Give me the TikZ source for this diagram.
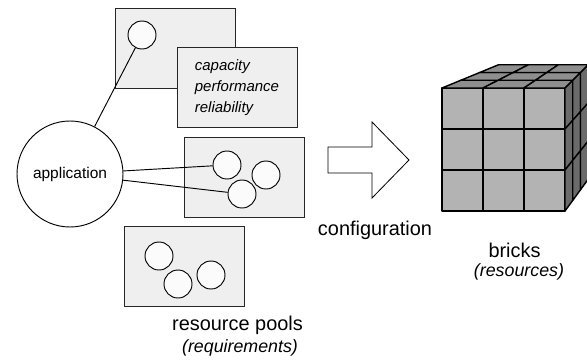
\documentclass[tikz,border=0pt]{standalone}
\usepackage{fontspec}
\setmainfont{Liberation Sans}
\usepackage{tikz}
\usetikzlibrary{positioning}
\definecolor{poolFill}{RGB}{239,239,239}
\definecolor{slotFill}{RGB}{251,251,251}
\definecolor{brickFront}{RGB}{179,179,179}
\definecolor{brickTop}{RGB}{142,142,142}
\definecolor{brickSide}{RGB}{107,107,107}
\tikzstyle{pool} = [rectangle, minimum width=3.6cm, minimum height=2.4cm, draw=black!85, fill=poolFill, line width=0.8pt]
\tikzstyle{slot} = [circle, minimum size=0.84cm, inner sep=0pt, draw=black, fill=slotFill, line width=0.8pt]
\tikzstyle{app} = [circle, minimum size=3.18cm, inner sep=0pt, draw=black, fill=white, line width=0.8pt, font=\fontsize{13.2}{15}\selectfont]
\tikzstyle{link} = [line width=0.8pt]
\tikzstyle{bigtext} = [inner sep=0pt, font=\fontsize{17}{20}\selectfont]
\tikzstyle{subtext} = [inner sep=0pt, font=\fontsize{15.2}{18}\selectfont\itshape]
\tikzstyle{brick} = [draw=black, line width=1.2pt, line join=round]

\begin{document}
\begin{tikzpicture}[x=0.03cm, y=-0.03cm]
        \useasboundingbox (0,0) rectangle (587,362);

        % pools with their slots
        \node (pool1) [pool] at (175,48.5) {};
        \node (props) [pool, align=left, font=\fontsize{12.8}{18}\selectfont\itshape] at (237,87.5) {capacity\\ performance\\ reliability};
        \node (pool2) [pool] at (244.5,177.5) {};
        \node (pool3) [pool] at (184.5,266) {};

        \node (s1) [slot] at (142,35) {};
        \node (s2) [slot] at (227,165) {};
        \node (s3) [slot] at (266,175) {};
        \node (s4) [slot] at (242,194) {};
        \node (s5) [slot] at (159,256) {};
        \node (s6) [slot] at (178,284) {};
        \node (s7) [slot] at (211,275) {};

        \node (app) [app] at (70,174) {application};

        \draw [link] (app) -- (s1);
        \draw [link] (app) -- (s2);
        \draw [link] (app) -- (s4);

        \node (pools) [bigtext] at (237.5,325) {resource pools};
        \node (req) [subtext] at (240,348) {(requirements)};

        % configuration arrow
        \coordinate (cfg) at (328,160);
        \draw [line width=0.7pt, fill=white, line join=miter] (cfg) ++(0,-13) -- ++(44,0) -- ++(0,-25) -- ++(37,38)
            -- ++(-37,38) -- ++(0,-25) -- ++(-44,0) -- cycle;
        \node (cfglabel) [bigtext] at (375,230) {configuration};

        % brick cube: front, top and side faces
        \foreach \i in {0,1,2}
            \foreach \j in {0,1,2}
                \draw [brick, fill=brickFront] ({442+41*\i},{88+41*\j}) rectangle +(41,41);
        \foreach \k in {0,1,2}{
            \pgfmathsetmacro{\sa}{1-0.09*\k}
            \pgfmathsetmacro{\sb}{1-0.09*(\k+1)}
            \foreach \i in {0,1,2}{
                \pgfmathsetmacro{\xa}{442+41*\i}
                \pgfmathsetmacro{\xb}{483+41*\i}
                \draw [brick, fill=brickTop] ({651+(\xa-651)*\sa},{2+86*\sa}) -- ({651+(\xb-651)*\sa},{2+86*\sa})
                    -- ({651+(\xb-651)*\sb},{2+86*\sb}) -- ({651+(\xa-651)*\sb},{2+86*\sb}) -- cycle;
            }
            \pgfmathsetmacro{\xa}{651-86*\sa}
            \pgfmathsetmacro{\xb}{651-86*\sb}
            \pgfmathsetmacro{\ta}{2+86*\sa}
            \pgfmathsetmacro{\tb}{2+86*\sb}
            \pgfmathsetmacro{\ba}{211-1.37*(\xa-565)}
            \pgfmathsetmacro{\bb}{211-1.37*(\xb-565)}
            \foreach \j in {0,1,2}
                \draw [brick, fill=brickSide] (\xa,{\ta+(\ba-\ta)*\j/3}) -- (\xb,{\tb+(\bb-\tb)*\j/3})
                    -- (\xb,{\tb+(\bb-\tb)*(\j+1)/3}) -- (\xa,{\ta+(\ba-\ta)*(\j+1)/3}) -- cycle;
        }
        \node (bricks) [bigtext] at (514.5,250) {bricks};
        \node (res) [subtext] at (519,272) {(resources)};
    \end{tikzpicture}
\end{document}
